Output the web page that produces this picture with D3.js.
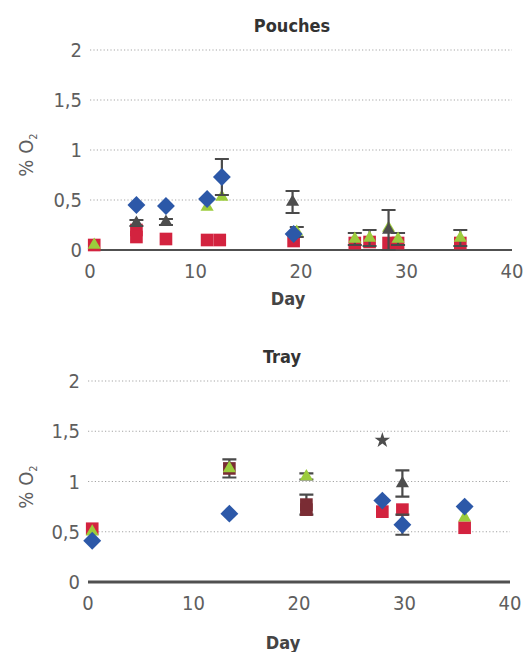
<!DOCTYPE html>
<html>
<head>
<meta charset="utf-8">
<script src="https://cdn.jsdelivr.net/npm/d3@7"></script>
<style>
  body { margin: 0; background: #fff; }
  text { font-family: 'DejaVu Sans Condensed', 'Liberation Sans Narrow', 'DejaVu Sans', sans-serif; }
</style>
</head>
<body>
<div id="chart"></div>
<script>
// tick labels
const yTicks = [0, 0.5, 1, 1.5, 2]
const xTicks = [0, 10, 20, 30, 40]

// Pouches: [day, %O2, error]
const pouchRed = [[0.4, 0.05, 0], [4.4, 0.2, 0], [4.4, 0.13, 0], [7.2, 0.11, 0], [11.1, 0.1, 0], [12.3, 0.1, 0],
  [19.3, 0.09, 0], [25.1, 0.07, 0], [26.5, 0.08, 0], [28.3, 0.07, 0], [29.2, 0.07, 0], [35.1, 0.07, 0]]
const pouchGreen = [[0.4, 0.05, 0], [11.1, 0.43, 0], [12.5, 0.53, 0], [19.6, 0.18, 0.05], [25.1, 0.11, 0.06],
  [26.5, 0.12, 0.08], [28.3, 0.22, 0], [29.2, 0.11, 0.06], [35.1, 0.12, 0.08]]
const pouchGray = [[4.4, 0.27, 0.03], [7.2, 0.28, 0.03], [19.2, 0.48, 0.11], [28.3, 0.2, 0.2]]
const pouchBlue = [[4.4, 0.45, 0], [7.2, 0.44, 0], [11.1, 0.51, 0], [12.5, 0.73, 0.18], [19.3, 0.16, 0]]

// Tray: [day, %O2, error]
const trayRed = [[0.4, 0.53, 0], [27.9, 0.7, 0], [29.8, 0.72, 0], [35.7, 0.54, 0]]
const trayMaroon = [[13.4, 1.13, 0.09], [20.7, 0.72, 0], [20.7, 0.77, 0.1]]
const trayGreen = [[0.4, 0.5, 0], [13.4, 1.13, 0], [20.7, 1.05, 0.03], [35.7, 0.64, 0]]
const trayGray = [[29.8, 0.98, 0.13]]
const trayStar = [[27.9, 1.41, 0]]
const trayBlue = [[0.4, 0.41, 0], [13.4, 0.68, 0], [27.9, 0.81, 0], [29.8, 0.57, 0.1], [35.7, 0.75, 0]]

const width = 532, height = 652

const svg = d3.select("#chart")
  .append("svg")
    .attr("width", width)
    .attr("height", height)

function drawPanel(p) {
  const x = d3.scaleLinear().domain([0, 40]).range([p.left, p.right])
  const y = d3.scaleLinear().domain([0, 2]).range([p.bottom, p.top])
  const g = svg.append("g")

  // dotted grid
  g.selectAll(".grid")
    .data(yTicks.filter(d => d > 0))
    .enter()
    .append("line")
      .attr("x1", x(0))
      .attr("x2", x(40))
      .attr("y1", d => y(d))
      .attr("y2", d => y(d))
      .attr("stroke", "#a5a5a5")
      .attr("stroke-width", 1.2)
      .attr("stroke-dasharray", "1.2,2.2")

  // y tick labels
  g.selectAll(".ytick")
    .data(yTicks)
    .enter()
    .append("text")
      .attr("x", p.left - 8)
      .attr("y", d => y(d) + 7)
      .attr("text-anchor", "end")
      .attr("font-size", 20)
      .attr("fill", "#5e5e5e")
      .text(d => String(d).replace(".", ","))

  // x tick labels
  g.selectAll(".xtick")
    .data(xTicks)
    .enter()
    .append("text")
      .attr("x", d => x(d))
      .attr("y", p.bottom + 28)
      .attr("text-anchor", "middle")
      .attr("font-size", 20)
      .attr("fill", "#5e5e5e")
      .text(d => d)

  // x axis line
  g.append("line")
    .attr("x1", x(0))
    .attr("x2", x(40))
    .attr("y1", y(0))
    .attr("y2", y(0))
    .attr("stroke", "#505050")
    .attr("stroke-width", p.axisWidth)

  // titles
  g.append("text")
    .attr("x", p.titleX)
    .attr("y", p.top - 18)
    .attr("text-anchor", "middle")
    .attr("font-size", 18)
    .attr("font-weight", "bold")
    .attr("fill", "#333")
    .text(p.title)
  g.append("text")
    .attr("x", p.dayX)
    .attr("y", p.dayY)
    .attr("text-anchor", "middle")
    .attr("font-size", 18)
    .attr("font-weight", "bold")
    .attr("fill", "#444")
    .text("Day")
  const yl = g.append("text")
    .attr("transform", `translate(33,${p.labelY}) rotate(-90)`)
    .attr("text-anchor", "middle")
    .attr("font-size", 20)
    .attr("fill", "#5e5e5e")
  yl.append("tspan").text("% O")
  yl.append("tspan").attr("font-size", 11).attr("dy", 4).text("2")

  // series
  p.series.forEach(s => {
    const withErr = s.data.filter(d => d[2] > 0)
    g.selectAll(null)
      .data(withErr)
      .enter()
      .append("path")
        .attr("d", d => {
          const cx = x(d[0]), y1 = y(d[1] + d[2]), y2 = y(Math.max(0, d[1] - d[2]))
          return `M${cx - 7},${y1}H${cx + 7}M${cx},${y1}V${y2}M${cx - 7},${y2}H${cx + 7}`
        })
        .attr("stroke", "#4a4a4a")
        .attr("stroke-width", 2.2)
        .attr("fill", "none")
    g.selectAll(null)
      .data(s.data)
      .enter()
      .append("path")
        .attr("d", d3.symbol().type(s.shape).size(s.size))
        .attr("transform", d => `translate(${x(d[0])},${y(d[1])}) rotate(${s.rotate || 0})`)
        .attr("fill", s.color)
  })
}

drawPanel({
  title: "Pouches", titleX: 292, left: 90, right: 512, top: 50, bottom: 250,
  dayX: 288, dayY: 305, labelY: 155, axisWidth: 2,
  series: [
    {data: pouchRed, shape: d3.symbolSquare, size: 160, color: "#d3233f"},
    {data: pouchGreen, shape: d3.symbolTriangle, size: 75, color: "#9ccc3c"},
    {data: pouchGray, shape: d3.symbolTriangle, size: 75, color: "#4d4d4d"},
    {data: pouchBlue, shape: d3.symbolSquare, size: 160, color: "#2c58a8", rotate: 45}
  ]
})

drawPanel({
  title: "Tray", titleX: 282, left: 88, right: 510, top: 381, bottom: 582,
  dayX: 283, dayY: 649, labelY: 487, axisWidth: 3,
  series: [
    {data: trayRed, shape: d3.symbolSquare, size: 160, color: "#d3233f"},
    {data: trayMaroon, shape: d3.symbolSquare, size: 160, color: "#7a2c34"},
    {data: trayGreen, shape: d3.symbolTriangle, size: 75, color: "#9ccc3c"},
    {data: trayGray, shape: d3.symbolTriangle, size: 75, color: "#4d4d4d"},
    {data: trayStar, shape: d3.symbolStar, size: 75, color: "#4d4d4d"},
    {data: trayBlue, shape: d3.symbolSquare, size: 160, color: "#2c58a8", rotate: 45}
  ]
})
</script>
</body>
</html>
